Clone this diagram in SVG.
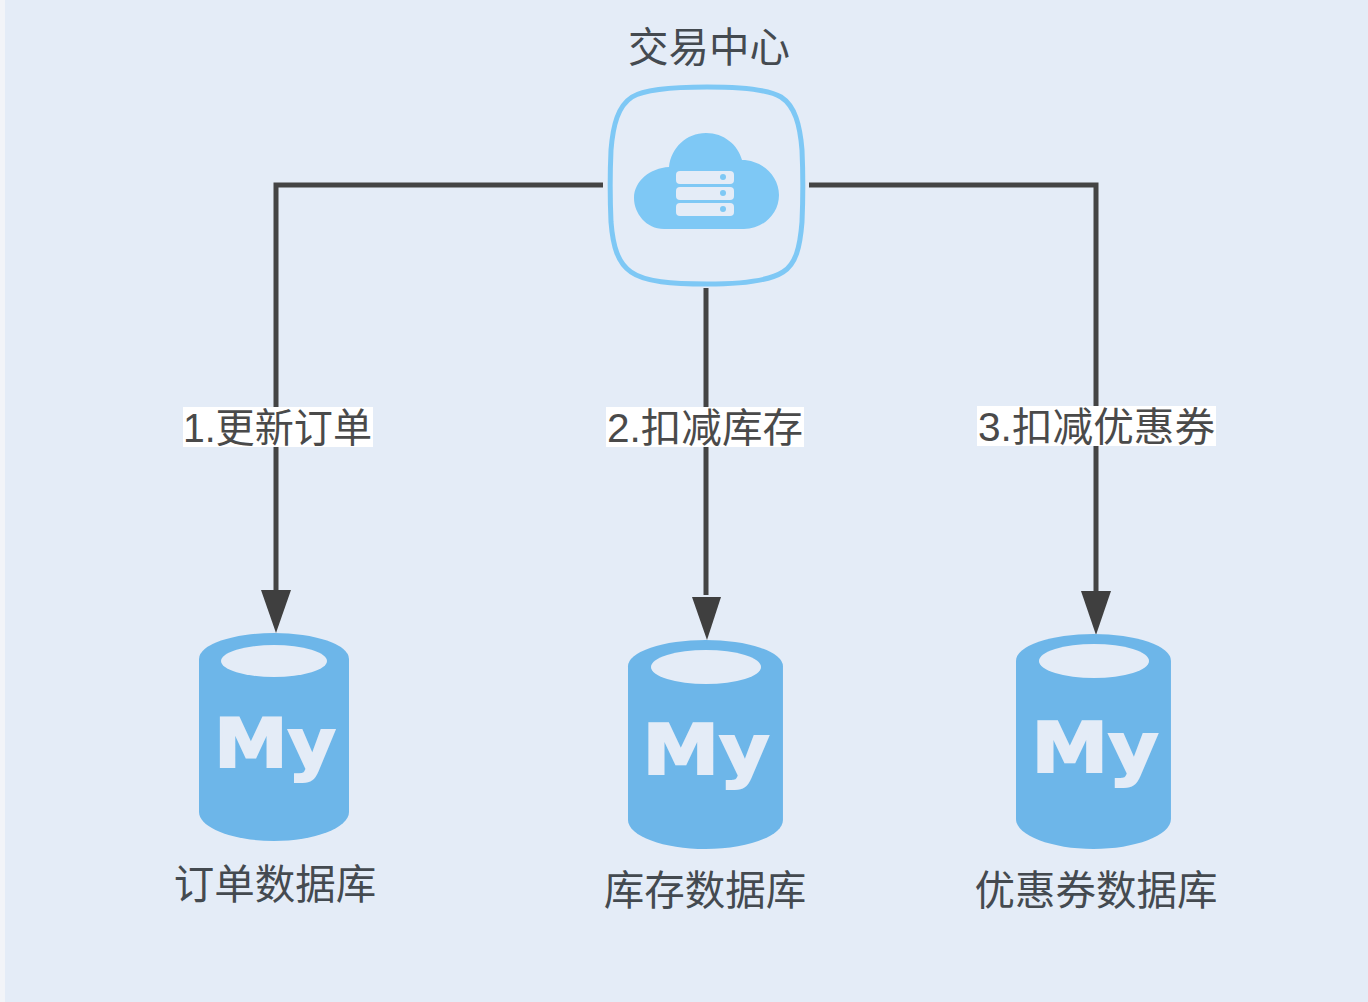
<svg xmlns="http://www.w3.org/2000/svg" width="1368" height="1002" viewBox="0 0 1368 1002">
<style>
.t{font-family:"Noto Sans CJK SC","Liberation Sans",sans-serif;font-size:40.5px;fill:#444a50;text-anchor:middle}
.l{font-family:"Liberation Sans","Noto Sans CJK SC",sans-serif;font-size:40px;fill:#4a4a4a}
.c{fill:none;stroke:#444;stroke-width:5}
.cyl{fill:#6db6e9}
.hole{fill:#e4ecf7}
.my{font-family:"DejaVu Sans",sans-serif;font-weight:bold;font-size:67px;fill:#e4ecf7;stroke:#e4ecf7;stroke-width:2;text-anchor:middle}
.bg{fill:#fff}
.ico{fill:#7ec8f5}
</style>
<defs>
<path id="cylp" d="M0 26A75 26 0 0 1 150 26V179C150 195 115 208 75 208S0 195 0 179Z"/>
</defs>
<rect width="1368" height="1002" fill="#e4ecf7"/>
<rect width="5" height="1002" fill="#f2f4f8"/>
<g id="connectors">
<path class="c" d="M603 185H276V590"/>
<path class="c" d="M706 288V595"/>
<path class="c" d="M809 185H1096V595"/>
<path d="M261 590H291L276 633Z" fill="#3f3f3f"/>
<path d="M692 597H721L707 640Z" fill="#3f3f3f"/>
<path d="M1081 591H1111L1096 635Z" fill="#3f3f3f"/>
</g>
<g id="label1"><rect class="bg" x="183" y="407" width="190" height="40"/><text class="l" x="183" y="442" textLength="189" lengthAdjust="spacingAndGlyphs">1.更新订单</text></g>
<g id="label2"><rect class="bg" x="606" y="407" width="198" height="40"/><text class="l" x="607" y="442" textLength="196" lengthAdjust="spacingAndGlyphs">2.扣减库存</text></g>
<g id="label3"><rect class="bg" x="977" y="406" width="239" height="40"/><text class="l" x="978" y="441" textLength="237" lengthAdjust="spacingAndGlyphs">3.扣减优惠券</text></g>
<g id="trade-center">
<text class="t" x="709" y="62">交易中心</text>
<path d="M707 87C740 87 768 89 781 97C795 106 800 125 802 150C803 172 803 200 802 222C800 247 796 264 783 272C769 281 740 284 707 284C672 284 645 282 631 272C618 263 613 247 611 222C610 200 610 172 611 150C613 125 618 106 632 97C645 89 672 87 707 87Z" fill="none" stroke="#7ec8f5" stroke-width="5"/>
<path class="ico" d="M664 229C646 229 634 213 634 198C634 181 650 168 669 167C671 148 686 133 706 133C724 133 738 145 742 160C762 160 779 176 779 195C779 214 763 229 744 229Z"/>
<g fill="#e4ecf7"><rect x="676" y="171" width="58" height="13" rx="4"/><rect x="676" y="187" width="58" height="13" rx="4"/><rect x="676" y="203" width="58" height="13" rx="4"/></g>
<g class="ico"><circle cx="723" cy="177" r="3"/><circle cx="723" cy="193" r="3"/><circle cx="723" cy="209" r="3"/></g>
</g>
<g id="db-order">
<use href="#cylp" class="cyl" transform="translate(199 633)"/>
<ellipse class="hole" cx="274" cy="661" rx="53" ry="16"/>
<text class="my" transform="translate(275 767) scale(1.1 1)">My</text>
<text class="t" x="275" y="899">订单数据库</text>
</g>
<g id="db-stock">
<use href="#cylp" class="cyl" transform="translate(628 640) scale(1.033 1.005)"/>
<ellipse class="hole" cx="706" cy="667" rx="55" ry="17"/>
<text class="my" transform="translate(706 774) scale(1.15 1.03)">My</text>
<text class="t" x="705" y="905">库存数据库</text>
</g>
<g id="db-coupon">
<use href="#cylp" class="cyl" transform="translate(1016 634) scale(1.033 1.034)"/>
<ellipse class="hole" cx="1094" cy="661" rx="55" ry="17"/>
<text class="my" transform="translate(1095 772) scale(1.15 1.03)">My</text>
<text class="t" x="1096" y="905">优惠券数据库</text>
</g>
</svg>
